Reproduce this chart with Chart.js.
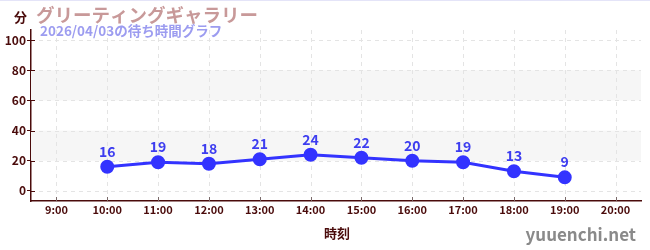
<!DOCTYPE html>
<html>
<head>
<meta charset="utf-8">
<script src="https://cdn.jsdelivr.net/npm/chart.js@4"></script>
<style>
  html, body { margin: 0; padding: 0; background: #fff; }
  #wrap { position: relative; width: 650px; height: 250px; border-top: 1px solid #e4e4f8; box-sizing: border-box; }
</style>
</head>
<body>
<div id="wrap"><canvas id="wait-chart" width="650" height="249"></canvas></div>
<script>
// Données
const hours = ["9:00", "10:00", "11:00", "12:00", "13:00", "14:00", "15:00", "16:00", "17:00", "18:00", "19:00", "20:00"];
const waitTimes = [null, 16, 19, 18, 21, 24, 22, 20, 19, 13, 9, null];
const yTickValues = [0, 10, 20, 30, 40, 50, 60, 70, 80, 90, 100];
const bands = [[20, 40], [60, 80]];

const titleText = "グリーティングギャラリー";
const subtitleText = "2026/04/03の待ち時間グラフ";
const FONT = "'Noto Sans CJK JP', 'Noto Sans', sans-serif";
const DARK = "#4a0b0b";

// Bandes grises et grille en pointillés
const bandPlugin = {
  id: "bands",
  beforeDatasetsDraw(chart) {
    const { ctx, chartArea, scales } = chart;
    ctx.save();
    ctx.fillStyle = "#f6f6f6";
    bands.forEach(([a, b]) => {
      const y1 = scales.y.getPixelForValue(b);
      const y2 = scales.y.getPixelForValue(a);
      ctx.fillRect(chartArea.left, y1, chartArea.right - chartArea.left, y2 - y1);
    });
    ctx.strokeStyle = "#e4e4e4";
    ctx.lineWidth = 1;
    ctx.setLineDash([4, 4]);
    hours.forEach((h, i) => {
      const x = Math.round(scales.x.getPixelForValue(i)) + 0.5;
      ctx.beginPath();
      ctx.moveTo(x, chartArea.top);
      ctx.lineTo(x, chartArea.bottom);
      ctx.stroke();
    });
    yTickValues.forEach(v => {
      if (v % 20 !== 0) return;
      const y = Math.round(scales.y.getPixelForValue(v)) + 0.5;
      ctx.beginPath();
      ctx.moveTo(chartArea.left, y);
      ctx.lineTo(chartArea.right, y);
      ctx.stroke();
    });
    ctx.restore();
  }
};

// Textes, étiquettes et petites graduations
const overlayPlugin = {
  id: "overlay",
  afterDraw(chart) {
    const { ctx, chartArea, scales } = chart;
    ctx.save();
    // graduations intérieures
    ctx.strokeStyle = DARK;
    ctx.lineWidth = 1;
    yTickValues.forEach(v => {
      if (v % 20 !== 0) return;
      const y = Math.round(scales.y.getPixelForValue(v)) + 0.5;
      ctx.beginPath();
      ctx.moveTo(chartArea.left, y);
      ctx.lineTo(chartArea.left + 4, y);
      ctx.stroke();
    });
    ctx.strokeStyle = "#7a6a6a";
    hours.forEach((h, i) => {
      const x = Math.round(scales.x.getPixelForValue(i)) + 0.5;
      ctx.beginPath();
      ctx.moveTo(x, chartArea.bottom);
      ctx.lineTo(x, chartArea.bottom - 4);
      ctx.stroke();
    });

    // valeurs au-dessus des points
    const meta = chart.getDatasetMeta(0);
    ctx.fillStyle = "#3d3df0";
    ctx.font = "bold 14px " + FONT;
    ctx.textAlign = "center";
    ctx.textBaseline = "alphabetic";
    meta.data.forEach((pt, i) => {
      if (waitTimes[i] == null) return;
      ctx.fillText(String(waitTimes[i]), pt.x, pt.y - 10);
    });

    // titres
    ctx.textAlign = "left";
    ctx.fillStyle = "#c89999";
    ctx.font = "bold 18.5px " + FONT;
    ctx.fillText(titleText, 36, 21);
    ctx.fillStyle = "#9c9cf0";
    ctx.font = "bold 13.5px " + FONT;
    ctx.fillText(subtitleText, 40, 35);
    ctx.fillStyle = DARK;
    ctx.font = "bold 13px " + FONT;
    ctx.fillText("分", 14, 21);

    ctx.textAlign = "center";
    ctx.fillText("時刻", 337, 237);

    ctx.textAlign = "right";
    ctx.fillStyle = "#8a8a8a";
    ctx.font = "bold 17px " + FONT;
    ctx.fillText("yuuenchi.net", 636, 240);
    ctx.restore();
  }
};

const ctx = document.getElementById("wait-chart");

new Chart(ctx, {
  type: "line",
  data: {
    labels: hours,
    datasets: [{
      data: waitTimes,
      borderColor: "#3333ff",
      backgroundColor: "#3333ff",
      borderWidth: 3,
      pointRadius: 5.5,
      pointHoverRadius: 5.5,
      tension: 0,
      spanGaps: false
    }]
  },
  options: {
    responsive: false,
    animation: false,
    layout: { padding: { top: 29, right: 9, left: 0, bottom: 0 } },
    plugins: {
      legend: { display: false },
      tooltip: { enabled: false }
    },
    scales: {
      x: {
        offset: true,
        grid: { display: false, drawTicks: false },
        border: { display: true, color: DARK, width: 1.5 },
        ticks: {
          color: DARK,
          font: { family: FONT, size: 11, weight: "bold" },
          maxRotation: 0,
          autoSkip: false,
          padding: 2
        },
        afterFit(scale) { scale.height = 49; }
      },
      y: {
        min: -6.7,
        max: 106.7,
        afterBuildTicks(scale) {
          scale.ticks = yTickValues.map(v => ({ value: v }));
        },
        grid: {
          drawOnChartArea: false,
          tickColor: c => (c.tick && c.tick.value % 20 === 0) ? DARK : "#e00000",
          tickLength: 4
        },
        border: { color: DARK, width: 1.5 },
        ticks: {
          color: DARK,
          font: { family: FONT, size: 12, weight: "bold" },
          padding: 1,
          callback: v => (v % 20 === 0 ? v : "")
        },
        afterFit(scale) { scale.width = 31; }
      }
    }
  },
  plugins: [bandPlugin, overlayPlugin]
});
</script>
</body>
</html>
